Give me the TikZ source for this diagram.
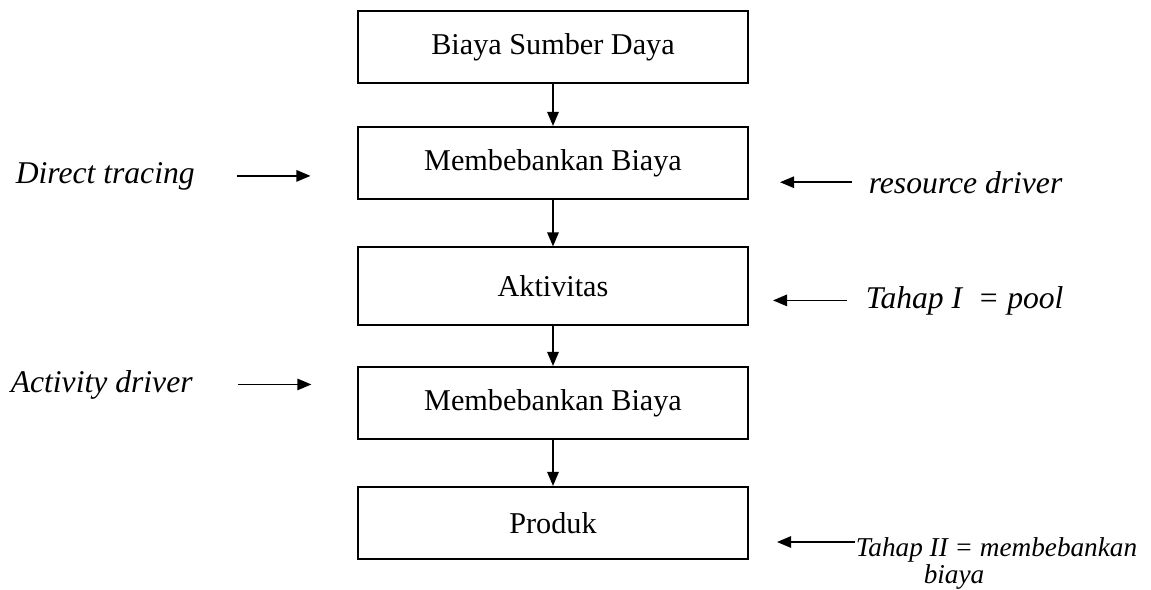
\documentclass[tikz,border=0pt]{standalone}
\usepackage{fontspec}
\setmainfont{Liberation Serif}
\usetikzlibrary{arrows.meta, positioning}

\begin{document}
\begin{tikzpicture}[>={Triangle[length=8pt, width=6.5pt]}, line width=0.9pt,
    kotak/.style={draw, rectangle, minimum width=7.8cm, minimum height=1.45cm, font=\fontsize{17.2}{20}\selectfont},
    ket/.style={font=\fontsize{18}{21}\selectfont\itshape, inner sep=0pt},
    ketkecil/.style={font=\fontsize{15.5}{18}\selectfont\itshape, inner sep=0pt}]
    \useasboundingbox (0,0) rectangle (23.02,-11.8);

    % alur pembebanan biaya
    \node[kotak] (sumber) at (11.06,-0.94) {Biaya Sumber Daya};
    \node[kotak] (beban1) at (11.06,-3.26) {Membebankan Biaya};
    \node[kotak, minimum height=1.55cm] (aktivitas) at (11.06,-5.72) {Aktivitas};
    \node[kotak] (beban2) at (11.06,-8.06) {Membebankan Biaya};
    \node[kotak] (produk) at (11.06,-10.46) {Produk};

    \draw[->] (sumber) -- (beban1);
    \draw[->] (beban1) -- (aktivitas);
    \draw[->] (aktivitas) -- (beban2);
    \draw[->] (beban2) -- (produk);

    % keterangan kiri
    \node[ket, anchor=base west] (direct) at (0.30,-3.66) {Direct tracing};
    \node[ket, anchor=base west] (actdrv) at (0.20,-7.84) {Activity driver};
    \draw[->] ([xshift=0.84cm]direct.east) -- ++(1.46,0);
    \draw[->] ([xshift=0.90cm]actdrv.east) -- ++(1.46,0);

    % keterangan kanan
    \node[ket, anchor=base west] (resource) at (17.36,-3.86) {resource driver};
    \node[ket, anchor=base west] (tahap1) at (17.30,-6.16) {Tahap I \ = pool};
    \node[ketkecil, anchor=base west] (tahap2) at (17.10,-11.12) {Tahap II = membebankan};
    \node[ketkecil, anchor=base west] (tahap2b) at (18.46,-11.66) {biaya};
    \draw[->] ([xshift=-0.32cm]resource.west) -- ++(-1.44,0);
    \draw[->] ([xshift=-0.36cm]tahap1.west) -- ++(-1.48,0);
    \draw[->] ([yshift=0.28cm]tahap2.base west) -- ++(-1.56,0);
\end{tikzpicture}
\end{document}
